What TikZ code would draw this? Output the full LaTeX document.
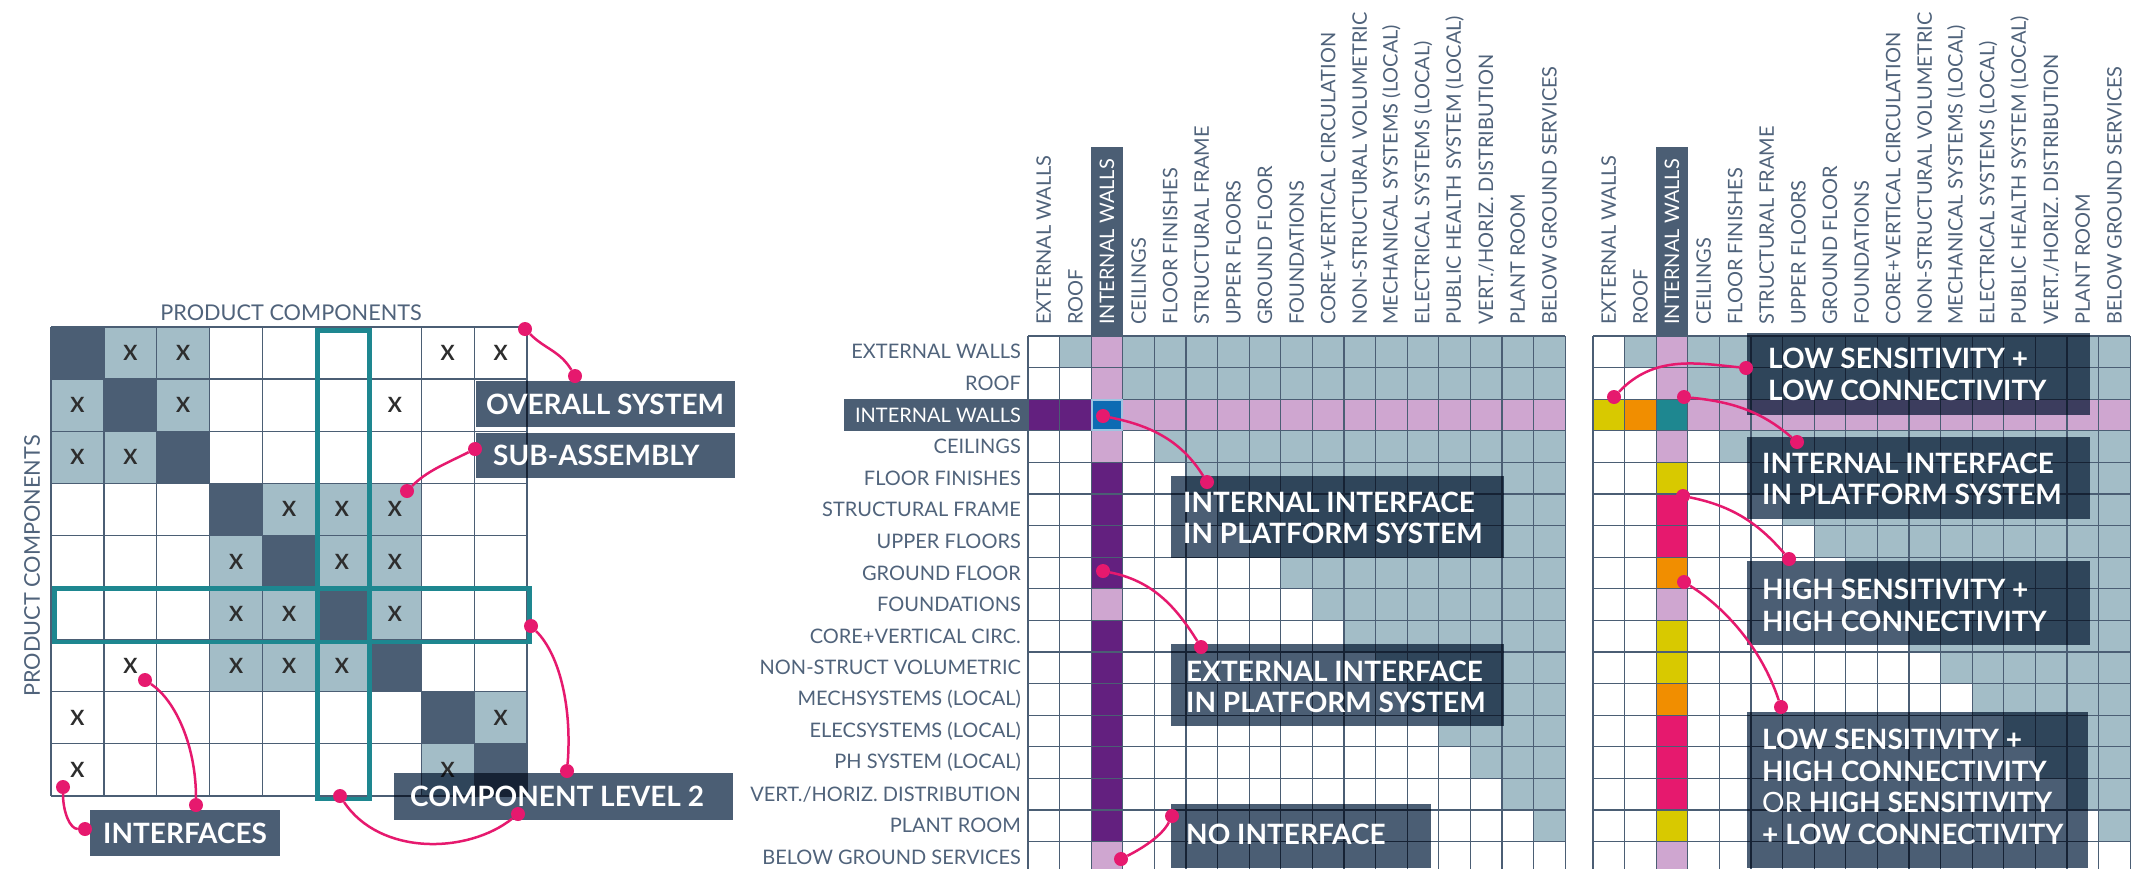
\documentclass[tikz,border=0pt]{standalone}
\usepackage{fontspec}
\setmainfont{Lato}
\definecolor{slate}{HTML}{4B5E74}
\definecolor{lbl}{HTML}{50637B}
\definecolor{lightc}{HTML}{A3BDC7}
\definecolor{pinkc}{HTML}{CFA6D0}
\definecolor{purp}{HTML}{63207F}
\definecolor{bluec}{HTML}{0D6BB3}
\definecolor{tealc}{HTML}{1E8790}
\definecolor{yel}{HTML}{D8C900}
\definecolor{mag}{HTML}{E6196E}
\definecolor{ora}{HTML}{F18E00}
\definecolor{xcol}{HTML}{2D2D2D}
\tikzset{
  lab/.style={font=\fontsize{20}{20}\selectfont, text=lbl, inner sep=0pt},
  biglab/.style={font=\fontsize{21.7}{21.7}\selectfont, text=lbl, inner sep=0pt},
  btext/.style={font=\fontsize{28}{31.5}\selectfont\bfseries, text=white, inner sep=0pt, align=left, anchor=west},
  dot/.style={circle, fill=mag, inner sep=0pt, minimum size=14pt},
  conn/.style={draw=mag, line width=2.5pt},
  xmark/.style={font=\fontsize{21}{21}\selectfont\bfseries, text=xcol, inner sep=0pt},
  gridl/.style={draw=slate, line width=1.3pt},
  hilite/.style={draw=tealc, line width=4.7pt},
}
\def\colnames{EXTERNAL WALLS,ROOF,INTERNAL WALLS,CEILINGS,FLOOR FINISHES,STRUCTURAL FRAME,UPPER FLOORS,GROUND FLOOR,FOUNDATIONS,CORE+VERTICAL CIRCULATION,NON-STRUCTURAL VOLUMETRIC,MECHANICAL SYSTEMS (LOCAL),ELECTRICAL SYSTEMS (LOCAL),PUBLIC HEALTH SYSTEM (LOCAL),VERT./HORIZ. DISTRIBUTION,PLANT ROOM,BELOW GROUND SERVICES}
\begin{document}
\begin{tikzpicture}[x=1pt,y=-1pt]
\useasboundingbox (0,0) rectangle (2144,868);
\fill[white] (0,0) rectangle (2144,868);
% ---------- left matrix
\def\lx{51}\def\ly{327}\def\cw{52.9}\def\ch{52.1}
\foreach \i in {1,...,9}
  \fill[slate] ({\lx+(\i-1)*\cw},{\ly+(\i-1)*\ch}) rectangle +(\cw,\ch);
\foreach \r/\c in {1/2,1/3,2/1,2/3,3/1,3/2,4/5,4/6,4/7,5/4,5/6,5/7,6/4,6/5,6/7,7/4,7/5,7/6,8/9,9/8}
  \fill[lightc] ({\lx+(\c-1)*\cw},{\ly+(\r-1)*\ch}) rectangle +(\cw,\ch);
\foreach \i in {0,...,9} {
  \draw[gridl] ({\lx+\i*\cw},\ly) -- +(0,468.9);
  \draw[gridl] (\lx,{\ly+\i*\ch}) -- +(476.1,0);
}
\foreach \r/\c in {1/2,1/3,1/8,1/9,2/1,2/3,2/7,3/1,3/2,4/5,4/6,4/7,5/4,5/6,5/7,6/4,6/5,6/7,7/2,7/4,7/5,7/6,8/1,8/9,9/1,9/8}
  \node[xmark] (x\r-\c) at ({\lx+(\c-0.5)*\cw},{\ly+(\r-0.5)*\ch}) {X};
\draw[hilite] (317.5,330.5) rectangle (369.5,799);
\draw[hilite] (54.5,588.5) rectangle (529.5,642);
\node[biglab] (pctop) at (291,313) {PRODUCT COMPONENTS};
\node[biglab, rotate=90] (pcleft) at (32,566) {PRODUCT COMPONENTS};
% ---------- middle matrix
\def\mx{1028}\def\my{336}\def\cs{31.6}
\foreach \r in {1,...,16}
  \fill[lightc] ({\mx+\r*\cs},{\my+(\r-1)*\cs}) rectangle ({\mx+17*\cs},{\my+\r*\cs});
\foreach \cc [count=\r] in {pinkc,pinkc,bluec,pinkc,purp,purp,purp,purp,pinkc,purp,purp,purp,purp,purp,purp,purp,pinkc}
  \fill[\cc] ({\mx+2*\cs},{\my+(\r-1)*\cs}) rectangle +(\cs,\cs);
\fill[purp] (\mx,{\my+2*\cs}) rectangle +(63.2,31.6);
\fill[pinkc] ({\mx+3*\cs},{\my+2*\cs}) rectangle ({\mx+17*\cs},{\my+3*\cs});
\foreach \i in {0,...,17} {
  \draw[gridl] ({\mx+\i*\cs},\my) -- +(0,537.2);
  \draw[gridl] (\mx,{\my+\i*\cs}) -- +(537.2,0);
}
\draw[draw=white!60!bluec, line width=1.5pt, fill=bluec] ({\mx+2*\cs+0.75},{\my+2*\cs+0.75}) rectangle +(30.1,30.1);
\fill[slate] (844,{\my+2*\cs}) rectangle (\mx,{\my+3*\cs});
\foreach \t [count=\r] in {EXTERNAL WALLS,ROOF,INTERNAL WALLS,CEILINGS,FLOOR FINISHES,STRUCTURAL FRAME,UPPER FLOORS,GROUND FLOOR,FOUNDATIONS,CORE+VERTICAL CIRC.,NON-STRUCT VOLUMETRIC,MECHSYSTEMS (LOCAL),ELECSYSTEMS (LOCAL),PH SYSTEM (LOCAL),VERT./HORIZ. DISTRIBUTION,PLANT ROOM,BELOW GROUND SERVICES} {
  \ifnum\r=3 \def\tc{white}\else\def\tc{lbl}\fi
  \node[lab, anchor=east, text=\tc] (rl\r) at (1021,{\my+(\r-0.5)*\cs}) {\t};
}
\fill[slate] ({\mx+2*\cs},147) rectangle +(31.6,189);
\foreach \t [count=\k] in \colnames {
  \ifnum\k=3 \def\tc{white}\else\def\tc{lbl}\fi
  \node[lab, rotate=90, anchor=west, text=\tc] (mc\k) at ({\mx+(\k-0.5)*\cs},325) {\t};
}
% ---------- right matrix
\def\rx{1593}
\foreach \r in {1,...,16}
  \fill[lightc] ({\rx+\r*\cs},{\my+(\r-1)*\cs}) rectangle ({\rx+17*\cs},{\my+\r*\cs});
\foreach \cc [count=\r] in {pinkc,pinkc,tealc,pinkc,yel,mag,mag,ora,pinkc,yel,yel,ora,mag,mag,mag,yel,pinkc}
  \fill[\cc] ({\rx+2*\cs},{\my+(\r-1)*\cs}) rectangle +(\cs,\cs);
\fill[yel] (\rx,{\my+2*\cs}) rectangle +(31.6,31.6);
\fill[ora] ({\rx+\cs},{\my+2*\cs}) rectangle +(31.6,31.6);
\fill[pinkc] ({\rx+3*\cs},{\my+2*\cs}) rectangle ({\rx+17*\cs},{\my+3*\cs});
\foreach \i in {0,...,17} {
  \draw[gridl] ({\rx+\i*\cs},\my) -- +(0,537.2);
  \draw[gridl] (\rx,{\my+\i*\cs}) -- +(537.2,0);
}
\fill[slate] ({\rx+2*\cs},147) rectangle +(31.6,189);
\foreach \t [count=\k] in \colnames {
  \ifnum\k=3 \def\tc{white}\else\def\tc{lbl}\fi
  \node[lab, rotate=90, anchor=west, text=\tc] (rc\k) at ({\rx+(\k-0.5)*\cs},325) {\t};
}
% ---------- label boxes
\begin{scope}[blend mode=multiply]
\fill[slate] (476,381) rectangle (735,427);
\fill[slate] (476,433) rectangle (735,478);
\fill[slate] (394,773) rectangle (733,820);
\fill[slate] (90,810) rectangle (280,856);
\fill[slate] (1171,476) rectangle (1504,558);
\fill[slate] (1171,644) rectangle (1504,726);
\fill[slate] (1171,804) rectangle (1431,868);
\fill[slate] (1747,333) rectangle (2090,415);
\fill[slate] (1747,437) rectangle (2090,519);
\fill[slate] (1747,561) rectangle (2090,645);
\fill[slate] (1747,712) rectangle (2088,868);
\end{scope}
\node[btext] (t1) at (486,404) {OVERALL SYSTEM};
\node[btext] (t2) at (493,455.5) {SUB-ASSEMBLY};
\node[btext] (t3) at (410,796.5) {COMPONENT LEVEL 2};
\node[btext] (t4) at (103,833) {INTERFACES};
\node[btext] (t5) at (1183,518) {INTERNAL INTERFACE\\IN PLATFORM SYSTEM};
\node[btext] (t6) at (1186,687) {EXTERNAL INTERFACE\\IN PLATFORM SYSTEM};
\node[btext] (t7) at (1186,834) {NO INTERFACE};
\node[btext] (t8) at (1768,374.5) {LOW SENSITIVITY +\\LOW CONNECTIVITY};
\node[btext] (t9) at (1762,479) {INTERNAL INTERFACE\\IN PLATFORM SYSTEM};
\node[btext] (t10) at (1762,605.5) {HIGH SENSITIVITY +\\HIGH CONNECTIVITY};
\node[btext] (t11) at (1762,787) {LOW SENSITIVITY +\\HIGH CONNECTIVITY\\{\mdseries OR} HIGH SENSITIVITY\\+ LOW CONNECTIVITY};
% ---------- connectors
\node[dot] (d1) at (525,329) {}; \node[dot] (d2) at (575,376) {};
\node[dot] (d3) at (475,449) {}; \node[dot] (d4) at (407,491) {};
\node[dot] (d5) at (63,787) {}; \node[dot] (d6) at (85,829) {};
\node[dot] (d7) at (145,680) {}; \node[dot] (d8) at (196,805) {};
\node[dot] (d9) at (531,626) {}; \node[dot] (d10) at (567,771) {};
\node[dot] (d11) at (340,796) {}; \node[dot] (d12) at (518,814) {};
\node[dot] (d13) at (1103,416) {}; \node[dot] (d14) at (1207,482) {};
\node[dot] (d15) at (1103,571) {}; \node[dot] (d16) at (1201,647) {};
\node[dot] (d17) at (1121,859) {}; \node[dot] (d18) at (1172,816) {};
\node[dot] (d19) at (1614,397) {}; \node[dot] (d20) at (1746,368) {};
\node[dot] (d21) at (1684,397) {}; \node[dot] (d22) at (1797,442) {};
\node[dot] (d23) at (1683,496) {}; \node[dot] (d24) at (1789,559) {};
\node[dot] (d25) at (1684,582) {}; \node[dot] (d26) at (1781,707) {};
\draw[conn] (d1) .. controls +(20,20) and +(-15,-25) .. (d2);
\draw[conn] (d3) .. controls +(-30,15) and +(20,-20) .. (d4);
\draw[conn] (d5) .. controls +(0,25) and +(-15,0) .. (d6);
\draw[conn] (d7) .. controls +(30,20) and +(0,-60) .. (d8);
\draw[conn] (d9) .. controls +(30,30) and +(5,-60) .. (d10);
\draw[conn] (d11) .. controls +(40,60) and +(-50,40) .. (d12);
\draw[conn] (d13) .. controls +(50,10) and +(-25,-40) .. (d14);
\draw[conn] (d15) .. controls +(50,10) and +(-25,-40) .. (d16);
\draw[conn] (d17) .. controls +(20,-10) and +(-10,20) .. (d18);
\draw[conn] (d19) .. controls +(40,-42) and +(-50,-5) .. (d20);
\draw[conn] (d21) .. controls +(50,5) and +(-35,-30) .. (d22);
\draw[conn] (d23) .. controls +(50,10) and +(-30,-35) .. (d24);
\draw[conn] (d25) .. controls +(40,25) and +(-20,-60) .. (d26);
\end{tikzpicture}
\end{document}
